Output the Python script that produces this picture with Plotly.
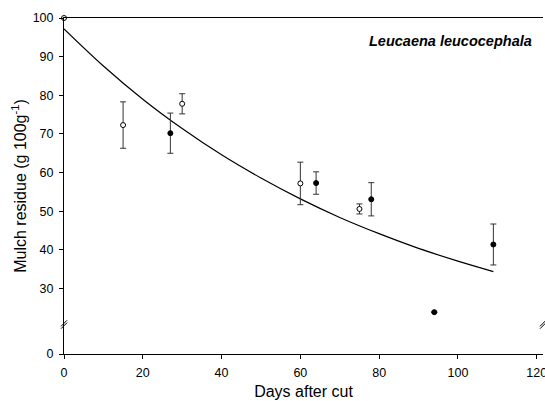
import plotly.graph_objects as go

# Open-circle observations
open_days = [0, 15, 30, 60, 75]
open_resid = [100.0, 72.3, 77.8, 57.2, 50.6]
open_err = [0, 6.0, 2.6, 5.5, 1.3]

# Filled-circle observations
fill_days = [27, 64, 78, 94, 109]
fill_resid = [70.2, 57.3, 53.1, 23.9, 41.4]
fill_err = [5.2, 2.9, 4.3, 0, 5.3]

# Fitted decay curve
curve_days = [0, 10, 20, 30, 40, 50, 60, 70, 80, 90, 100, 109]
curve_resid = [97.2, 87.6, 79.0, 71.4, 64.6, 58.6, 53.2, 48.4, 44.2, 40.4, 37.1, 34.4]

# Y axis: broken axis, ticks 30..100 above the break and 0 at the bottom
y_ticks = [30, 40, 50, 60, 70, 80, 90, 100]
y_bottom = 13.07  # axis value sitting at the x-axis line (labelled 0)
y_break = 20.7
x_ticks = [0, 20, 40, 60, 80, 100, 120]

FONT = "Liberation Sans, Arial, Helvetica, sans-serif"

fig = go.Figure()

fig.add_trace(go.Scatter(
    x=curve_days, y=curve_resid, mode="lines",
    line=dict(color="black", width=1.2, shape="spline"),
    hoverinfo="skip", showlegend=False))

fig.add_trace(go.Scatter(
    x=open_days, y=open_resid, mode="markers",
    marker=dict(symbol="circle", size=5, color="white",
                line=dict(color="black", width=1)),
    error_y=dict(type="data", array=open_err, color="#333333",
                 thickness=1, width=3),
    cliponaxis=False, showlegend=False))

fig.add_trace(go.Scatter(
    x=fill_days, y=fill_resid, mode="markers",
    marker=dict(symbol="circle", size=5, color="black",
                line=dict(color="black", width=1)),
    error_y=dict(type="data", array=fill_err, color="#333333",
                 thickness=1, width=3),
    cliponaxis=False, showlegend=False))

# Axis break marks "//" on the left and right edges
for xp in [0, 1]:
    for dy in [-1.2, 1.2]:
        fig.add_shape(type="line", xref="paper", yref="y",
                      xsizemode="pixel", ysizemode="pixel",
                      xanchor=xp, yanchor=y_break,
                      x0=-3, x1=3, y0=-3 + dy, y1=3 + dy,
                      line=dict(color="black", width=1))

fig.add_annotation(
    x=0.981, y=1 - (41 - 18) / 336.5, xref="paper", yref="paper",
    xanchor="right", yanchor="middle",
    text="<b><i>Leucaena leucocephala</i></b>", showarrow=False,
    font=dict(family=FONT, size=14.5, color="black"))

fig.update_layout(
    width=545, height=401,
    margin=dict(l=64, r=2, t=18, b=47, autoexpand=False),
    plot_bgcolor="white", paper_bgcolor="white",
    font=dict(family=FONT, size=12.5, color="black"),
    xaxis=dict(range=[0, 121.6], tickvals=x_ticks, automargin=False,
               ticks="outside", ticklen=4, tickwidth=1, tickcolor="black",
               ticklabeloverflow="allow", ticklabelstandoff=3,
               showline=True, linecolor="black", linewidth=1,
               mirror=True, showgrid=False, zeroline=False,
               tickfont=dict(size=12.5),
               title=dict(text="Days after cut", font=dict(size=16), standoff=6)),
    yaxis=dict(range=[y_bottom, 100], automargin=False,
               tickvals=[y_bottom] + y_ticks,
               ticktext=["0"] + [str(v) for v in y_ticks],
               ticks="outside", ticklen=4, tickwidth=1, tickcolor="black",
               ticklabelstandoff=3,
               showline=True, linecolor="black", linewidth=1,
               showgrid=False, zeroline=False,
               tickfont=dict(size=12.5),
               title=dict(text="Mulch residue (g 100g<sup>-1</sup>)",
                          font=dict(size=16), standoff=2)),
)

fig.write_html("out.html")
